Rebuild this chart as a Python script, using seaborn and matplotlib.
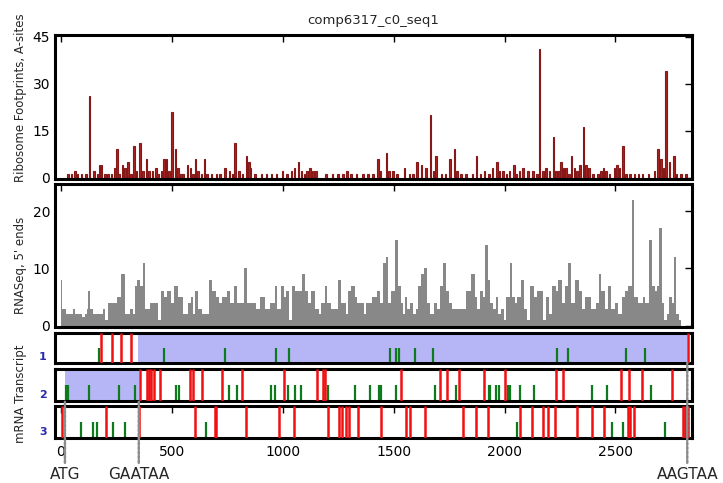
import matplotlib
matplotlib.use("Agg")
import matplotlib.pyplot as plt
import matplotlib.transforms as mtransforms
import seaborn as sns

TITLE = "comp6317_c0_seq1"
XTICKS = [0, 500, 1000, 1500, 2000, 2500]
XLIM = (-27, 2845)

# Ribosome footprint counts (A-site position, reads)
ribo_pos = [33, 48, 63, 74, 93, 113, 128, 150, 165, 173, 183, 198, 213, 228, 243, 254, 263,
            278, 288, 303, 315, 330, 341, 357, 371, 386, 398, 413, 428, 438, 453, 465, 476,
            488, 500, 516, 529, 541, 551, 571, 584, 596, 607, 619, 634, 647, 659, 679, 701,
            716, 740, 761, 773, 785, 803, 818, 836, 848, 854, 874, 904, 926, 949, 971, 998,
            1020, 1039, 1054, 1072, 1084, 1099, 1110, 1122, 1137, 1149, 1194, 1224, 1249,
            1272, 1291, 1309, 1332, 1362, 1385, 1407, 1430, 1440, 1467, 1479, 1497, 1515,
            1550, 1572, 1587, 1605, 1625, 1647, 1667, 1680, 1692, 1715, 1734, 1755, 1775,
            1785, 1805, 1827, 1855, 1873, 1891, 1910, 1930, 1945, 1966, 1978, 1993, 2008,
            2023, 2042, 2053, 2068, 2083, 2105, 2128, 2146, 2158, 2173, 2188, 2203, 2221,
            2233, 2245, 2255, 2266, 2278, 2290, 2302, 2315, 2326, 2341, 2356, 2368, 2380,
            2398, 2421, 2436, 2446, 2458, 2473, 2496, 2506, 2518, 2535, 2548, 2566, 2586,
            2605, 2623, 2650, 2676, 2691, 2706, 2716, 2727, 2743, 2763, 2776, 2796, 2818]
ribo_val = [1, 1, 2, 1, 1, 1, 26, 2, 1, 4, 4, 1, 1, 1, 3, 9, 1,
            4, 3, 5, 1, 10, 2, 11, 2, 6, 2, 2, 3, 1, 2, 6, 6,
            2, 21, 9, 3, 1, 1, 4, 3, 1, 6, 2, 1, 6, 1, 1, 1,
            1, 3, 2, 1, 11, 2, 1, 7, 5, 3, 1, 1, 1, 1, 1, 2,
            1, 2, 3, 5, 2, 1, 2, 3, 2, 2, 1, 1, 1,
            1, 2, 1, 1, 1, 1, 1, 6, 2, 8, 2, 2, 1,
            3, 1, 1, 5, 4, 3, 20, 2, 7, 1, 1, 6, 9,
            2, 1, 1, 1, 7, 1, 2, 1, 3, 5, 2, 2, 1,
            2, 4, 1, 2, 3, 2, 2, 1, 41, 2, 3, 2, 13,
            2, 2, 5, 3, 3, 1, 7, 3, 2, 4, 16, 4, 3,
            1, 1, 2, 3, 2, 1, 3, 4, 3, 10, 1, 1, 1,
            1, 1, 1, 2, 9, 6, 3, 34, 5, 7, 1, 1, 1]

# RNA-seq 5' end counts, stepped: each value holds from its position to the next
rna_pos = [0, 3, 25, 56, 63, 93, 108, 119, 123, 131, 146, 191, 198, 213, 251, 273, 288,
           311, 326, 333, 344, 356, 368, 380, 401, 438, 453, 465, 476, 498, 509, 529, 551,
           574, 586, 596, 604, 619, 638, 667, 680, 698, 713, 728, 749, 761, 781, 794, 826,
           839, 878, 899, 919, 941, 964, 976, 994, 1006, 1017, 1029, 1042, 1054, 1089,
           1099, 1114, 1129, 1144, 1164, 1174, 1189, 1201, 1219, 1249, 1264, 1284, 1294,
           1309, 1324, 1335, 1347, 1365, 1377, 1404, 1425, 1437, 1452, 1464, 1476, 1487,
           1508, 1520, 1532, 1542, 1551, 1562, 1575, 1587, 1599, 1610, 1623, 1635, 1650,
           1662, 1680, 1695, 1710, 1722, 1734, 1748, 1764, 1782, 1827, 1851, 1865, 1877,
           1891, 1901, 1912, 1924, 1936, 1948, 1960, 1972, 1985, 1997, 2008, 2023, 2035,
           2047, 2057, 2075, 2087, 2102, 2116, 2131, 2146, 2162, 2173, 2185, 2200, 2215,
           2230, 2243, 2258, 2273, 2288, 2302, 2320, 2335, 2350, 2362, 2377, 2388, 2403,
           2413, 2425, 2437, 2451, 2466, 2481, 2499, 2511, 2529, 2544, 2557, 2574, 2586,
           2604, 2623, 2635, 2653, 2665, 2677, 2688, 2698, 2710, 2721, 2733, 2743, 2755,
           2763, 2773, 2785]
rna_val = [8, 3, 2, 3, 2, 1.5, 2, 3, 6, 3, 2, 3, 1, 4, 5, 9, 2,
           3, 2, 7, 8, 7, 11, 3, 4, 1, 6, 5, 6, 4, 7, 5, 2,
           4, 5, 2, 6, 3, 2, 8, 6, 5, 4, 5, 6, 4, 7, 4, 10,
           4, 3, 5, 3, 4, 7, 3, 7, 5, 6, 1, 7, 6, 9,
           6, 4, 6, 3, 2, 4, 7, 4, 3, 8, 4, 2, 6,
           7, 5, 4, 4, 2, 4, 5, 6, 4, 11, 12, 4, 6,
           15, 7, 4, 2, 5, 3, 4, 2, 3, 7, 9, 10, 4,
           2, 4, 3, 7, 11, 6, 4, 3, 3, 6, 9, 5, 3,
           6, 5, 14, 8, 4, 3, 5, 2, 3, 1, 5, 11, 5,
           4, 5, 8, 3, 1, 7, 5, 6, 6, 1, 5, 2, 7,
           6, 8, 4, 7, 11, 4, 8, 6, 3, 5, 5, 3, 3,
           4, 9, 6, 3, 7, 3, 4, 2, 5, 6, 7, 22, 5,
           4, 5, 4, 15, 7, 6, 7, 17, 4, 1, 2, 5, 4,
           12, 2, 1]
RNA_END = 2796

# Start (green) and stop (red) codons in each reading frame
frame_starts = {
    1: [171, 464, 742, 971, 1029, 1482, 1512, 1524, 1595, 1677, 2237, 2285, 2548, 2632],
    2: [21, 33, 126, 261, 336, 521, 532, 758, 794, 949, 964, 1024, 1054, 1084, 1204,
        1324, 1392, 1434, 1445, 1509, 1685, 1782, 1928, 1936, 1963, 1975, 2015, 2026,
        2071, 2135, 2395, 2461, 2661],
    3: [89, 143, 164, 233, 288, 656, 2057, 2484, 2536, 2724],
}
frame_stops = {
    1: [180, 228, 270, 315, 2826],
    2: [356, 386, 396, 408, 419, 446, 581, 596, 634, 728, 818, 1006, 1156, 1182, 1189,
        1532, 1707, 1740, 1794, 1906, 2003, 2233, 2266, 2526, 2560, 2620, 2754],
    3: [3, 201, 353, 604, 694, 701, 833, 983, 1051, 1204, 1254, 1269, 1284, 1299, 1339,
        1445, 1554, 1572, 1643, 1812, 1873, 1925, 2071, 2125, 2173, 2195, 2228, 2327,
        2393, 2448, 2556, 2566, 2586, 2806, 2815, 2826],
}
# Open reading frames shaded per frame
orf_spans = {1: (348, 2822), 2: (18, 351)}

# Codons marked beneath the transcript
codon_labels = ["ATG", "GAATAA", "AAGTAA"]
codon_pos = [18, 351, 2824]
codon_frame = [2, 2, 1]

sns.set_theme(style="white")
plt.rcParams["font.family"] = ["DejaVu Sans"]

RIBO_COLOR = "#a82323"
RNA_COLOR = "#888888"
START_COLOR = "#0d7a1e"
STOP_COLOR = "#f01010"
ORF_COLOR = "#b6b6f6"
FRAME_LABEL_COLOR = "#2a2aa8"

fig = plt.figure(figsize=(7.23, 4.83), dpi=100)
L, W = 0.076, 0.881
ax_ribo = fig.add_axes([L, 0.629, W, 0.2985])
ax_rna = fig.add_axes([L, 0.323, W, 0.296])
ax_f = {
    1: fig.add_axes([L, 0.2484, W, 0.062]),
    2: fig.add_axes([L, 0.170, W, 0.066]),
    3: fig.add_axes([L, 0.093, W, 0.066]),
}
all_axes = [ax_ribo, ax_rna] + [ax_f[k] for k in (1, 2, 3)]

for ax in all_axes:
    ax.set_xlim(*XLIM)
    ax.set_facecolor("white")
    for sp in ax.spines.values():
        sp.set_visible(True)
        sp.set_color("black")
        sp.set_linewidth(2.2)
    ax.set_xticks(XTICKS)
    ax.tick_params(axis="both", direction="in", length=5, width=1, colors="black",
                   top=True, right=True, labelsize=10)
    ax.tick_params(axis="x", labelbottom=False)

# Ribosome footprints
ax_ribo.bar(ribo_pos, ribo_val, width=7, color=RIBO_COLOR, edgecolor="#861818",
            linewidth=0.8)
ax_ribo.set_ylim(-0.5, 45.5)
ax_ribo.set_yticks([0, 15, 30, 45])
ax_ribo.set_title(TITLE, fontsize=9.5, pad=8)

# RNA-seq 5' ends as a stepped histogram
rna_edges = rna_pos + [RNA_END]
sns.histplot(x=rna_pos, weights=rna_val, bins=rna_edges, ax=ax_rna, element="bars",
             color=RNA_COLOR, alpha=1.0, linewidth=0, edgecolor=RNA_COLOR)
ax_rna.set_ylim(-0.2, 24.7)
ax_rna.set_yticks([0, 10, 20])
ax_rna.set_ylabel("")
ax_rna.set_xlabel("")

# Reading frames
for k in (1, 2, 3):
    ax = ax_f[k]
    ax.set_ylim(0, 1)
    if k in orf_spans:
        ax.axvspan(*orf_spans[k], color=ORF_COLOR, lw=0, zorder=0)
    ax.vlines(frame_starts[k], 0, 0.5, colors=START_COLOR, lw=1.6, zorder=2)
    ax.vlines(frame_stops[k], 0, 1, colors=STOP_COLOR, lw=1.8, zorder=3)
    ax.set_yticks([0.22])
    ax.set_yticklabels([str(k)], color=FRAME_LABEL_COLOR, fontsize=8, fontweight="bold")
    ax.tick_params(axis="y", length=0, pad=6)
    if k != 3:
        ax.tick_params(axis="x", length=0, top=False, bottom=False)

ax_f[3].tick_params(axis="x", labelbottom=True, pad=5)
ax_f[3].set_zorder(5)
ax_f[3].patch.set_alpha(0.0)

# Codon markers with dotted leader lines
for lab, pos, fr in zip(codon_labels, codon_pos, codon_frame):
    target = ax_f[fr]
    xy_tr = mtransforms.blended_transform_factory(target.transData, target.transAxes)
    txt_tr = mtransforms.blended_transform_factory(ax_f[3].transData, fig.transFigure)
    ax_f[3].annotate(lab, xy=(pos, 0), xycoords=xy_tr, xytext=(pos, 0.0166),
                     textcoords=txt_tr, ha="center", va="center", fontsize=11,
                     annotation_clip=False,
                     arrowprops=dict(arrowstyle="-", color="#8c8c8c", lw=1.8,
                                     linestyle=(0, (1.0, 0.8)), shrinkA=1, shrinkB=0))

# Axis titles
fig.text(0.0277, 0.798, "Ribosome Footprints, A-sites", rotation=90, ha="center",
         va="center", fontsize=8.5)
fig.text(0.0277, 0.451, "RNASeq, 5' ends", rotation=90, ha="center", va="center",
         fontsize=8.5)
fig.text(0.0277, 0.184, "mRNA Transcript", rotation=90, ha="center", va="center",
         fontsize=8.5)

fig.savefig("out.png", dpi=100)
